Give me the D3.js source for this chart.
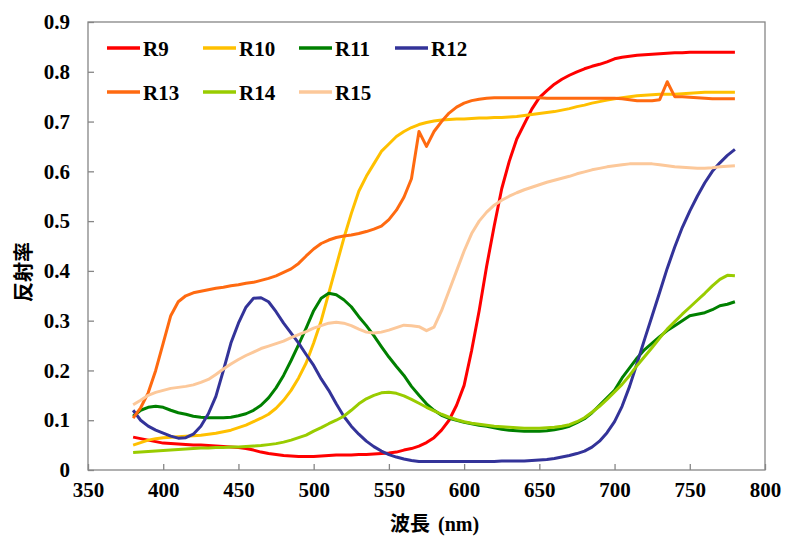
<!DOCTYPE html>
<html>
<head>
<meta charset="utf-8">
<script src="https://cdn.jsdelivr.net/npm/d3@7"></script>
<style>
  body { margin: 0; background: #fff; }
  svg { display: block; }
</style>
</head>
<body>
<svg width="785" height="536"></svg>
<script>
// wavelengths (nm), sampled every 5 nm from 380 to 780
var wavelengths = d3.range(380, 781, 5);

var seriesNames = ["R9", "R10", "R11", "R12", "R13", "R14", "R15"];
var seriesColors = ["#ff0000", "#ffc000", "#008000", "#333399", "#ff6a10", "#99cc00", "#fcc89a"];

var r9 = [
  0.066, 0.063, 0.060, 0.057, 0.054, 0.053, 0.052, 0.051, 0.050, 0.050,
  0.049, 0.048, 0.047, 0.046, 0.045, 0.043, 0.040, 0.036, 0.033, 0.031,
  0.029, 0.028, 0.027, 0.027, 0.027, 0.028, 0.029, 0.030, 0.030, 0.030,
  0.031, 0.031, 0.032, 0.033, 0.034, 0.036, 0.040, 0.043, 0.048, 0.055,
  0.065, 0.080, 0.100, 0.130, 0.170, 0.240, 0.320, 0.410, 0.490, 0.565,
  0.620, 0.665, 0.695, 0.725, 0.748, 0.762, 0.775, 0.785, 0.793, 0.800,
  0.806, 0.811, 0.815, 0.820, 0.826, 0.829, 0.831, 0.833, 0.834, 0.835,
  0.836, 0.837, 0.838, 0.838, 0.839, 0.839, 0.839, 0.839, 0.839, 0.839,
  0.839
];
var r10 = [
  0.050, 0.055, 0.060, 0.063, 0.065, 0.066, 0.067, 0.068, 0.069, 0.070,
  0.072, 0.074, 0.077, 0.080, 0.085, 0.090, 0.097, 0.104, 0.112, 0.124,
  0.140, 0.160, 0.185, 0.215, 0.255, 0.300, 0.355, 0.410, 0.465, 0.515,
  0.560, 0.590, 0.615, 0.640, 0.655, 0.670, 0.680, 0.688, 0.694, 0.698,
  0.701, 0.703, 0.704, 0.705, 0.705, 0.706, 0.707, 0.707, 0.708, 0.708,
  0.709, 0.710, 0.712, 0.714, 0.716, 0.718, 0.720, 0.723, 0.726, 0.730,
  0.733, 0.737, 0.740, 0.743, 0.746, 0.748, 0.750, 0.752, 0.753, 0.754,
  0.755, 0.755, 0.755, 0.756, 0.757, 0.758, 0.759, 0.759, 0.759, 0.759,
  0.759
];
var r11 = [
  0.108, 0.120, 0.126, 0.128, 0.126, 0.120, 0.115, 0.112, 0.108, 0.106,
  0.105, 0.105, 0.105, 0.106, 0.109, 0.113, 0.120, 0.130, 0.145, 0.165,
  0.190, 0.220, 0.252, 0.285, 0.320, 0.345, 0.355, 0.352, 0.342, 0.328,
  0.308, 0.290, 0.270, 0.248, 0.227, 0.208, 0.190, 0.168, 0.150, 0.133,
  0.120, 0.110, 0.104, 0.100, 0.096, 0.093, 0.090, 0.088, 0.085, 0.082,
  0.080, 0.079, 0.078, 0.078, 0.078, 0.079, 0.081, 0.084, 0.088, 0.095,
  0.103, 0.115, 0.130, 0.145, 0.160, 0.185, 0.205, 0.225, 0.242, 0.255,
  0.268, 0.280, 0.290, 0.300, 0.310, 0.313, 0.316, 0.322, 0.330, 0.333,
  0.338
];
var r12 = [
  0.120, 0.100, 0.088, 0.080, 0.074, 0.068, 0.064, 0.065, 0.072, 0.088,
  0.113, 0.148, 0.200, 0.255, 0.295, 0.327, 0.345, 0.346, 0.338, 0.318,
  0.295, 0.275, 0.255, 0.232, 0.210, 0.183, 0.160, 0.133, 0.108, 0.088,
  0.072, 0.058, 0.047, 0.038, 0.031, 0.026, 0.022, 0.019, 0.017, 0.017,
  0.017, 0.017, 0.017, 0.017, 0.017, 0.017, 0.017, 0.017, 0.017, 0.018,
  0.018, 0.018, 0.018, 0.019, 0.020, 0.021, 0.023, 0.026, 0.029, 0.033,
  0.038, 0.046, 0.058, 0.075, 0.097, 0.128, 0.168, 0.215, 0.263, 0.310,
  0.357, 0.405, 0.448, 0.487, 0.520, 0.550, 0.577, 0.600, 0.617, 0.632,
  0.644
];
var r13 = [
  0.104, 0.125, 0.155, 0.200, 0.255, 0.310, 0.338, 0.350, 0.356, 0.359,
  0.362, 0.365, 0.367, 0.370, 0.372, 0.375, 0.377, 0.381, 0.385, 0.390,
  0.397, 0.404, 0.415, 0.430, 0.444, 0.455, 0.462, 0.467, 0.470, 0.472,
  0.475, 0.479, 0.484, 0.490, 0.503, 0.522, 0.548, 0.585, 0.680, 0.650,
  0.680, 0.700, 0.717, 0.729, 0.737, 0.742, 0.745, 0.747, 0.748, 0.748,
  0.748, 0.748, 0.748, 0.748, 0.748, 0.747, 0.747, 0.747, 0.747, 0.747,
  0.747, 0.747, 0.747, 0.747, 0.747, 0.746, 0.744, 0.742, 0.742, 0.742,
  0.744, 0.780, 0.750, 0.750, 0.749, 0.748, 0.747, 0.746, 0.746, 0.746,
  0.746
];
var r14 = [
  0.035, 0.036, 0.037, 0.038, 0.039, 0.040, 0.041, 0.042, 0.043, 0.044,
  0.044, 0.045, 0.045, 0.046, 0.046, 0.047, 0.048, 0.049, 0.051, 0.053,
  0.056, 0.060, 0.065, 0.070, 0.078, 0.085, 0.093, 0.100, 0.108, 0.120,
  0.133, 0.143, 0.150, 0.155, 0.156, 0.154, 0.149, 0.142, 0.134, 0.126,
  0.119, 0.112, 0.106, 0.101, 0.097, 0.094, 0.092, 0.090, 0.088, 0.087,
  0.086, 0.085, 0.084, 0.084, 0.084, 0.085, 0.086, 0.088, 0.091, 0.097,
  0.105, 0.116, 0.128, 0.142, 0.157, 0.172, 0.190, 0.210, 0.228, 0.246,
  0.265, 0.283, 0.298, 0.313, 0.327, 0.341, 0.355, 0.370, 0.383, 0.391,
  0.390
];
var r15 = [
  0.131, 0.140, 0.150, 0.156, 0.160, 0.164, 0.166, 0.168, 0.171, 0.176,
  0.182, 0.192, 0.203, 0.213, 0.222, 0.230, 0.237, 0.244, 0.249, 0.254,
  0.259, 0.266, 0.272, 0.278, 0.285, 0.290, 0.295, 0.297, 0.295, 0.290,
  0.283, 0.277, 0.275, 0.277, 0.281, 0.286, 0.291, 0.290, 0.288, 0.280,
  0.287, 0.320, 0.360, 0.400, 0.440, 0.475, 0.500, 0.518, 0.532, 0.542,
  0.550, 0.557, 0.563, 0.568, 0.573, 0.578, 0.582, 0.586, 0.590, 0.595,
  0.599, 0.603, 0.606, 0.609, 0.611, 0.613, 0.615, 0.615, 0.615, 0.615,
  0.613, 0.611, 0.609, 0.608, 0.607, 0.606, 0.606, 0.607, 0.609, 0.610,
  0.611
];

var xTicks = [350, 400, 450, 500, 550, 600, 650, 700, 750, 800];
var yTicks = [0, 0.1, 0.2, 0.3, 0.4, 0.5, 0.6, 0.7, 0.8, 0.9];

var allSeries = [r9, r10, r11, r12, r13, r14, r15];

var serif = "Liberation Serif";
var cjk = "Noto Sans CJK JP";

var svg = d3.select("svg");
var plot = { left: 88, right: 765, top: 22, bottom: 470 };

var x = d3.scaleLinear().domain([350, 800]).range([plot.left, plot.right]);
var y = d3.scaleLinear().domain([0, 0.9]).range([plot.bottom, plot.top]);

// frame
svg.append("rect")
    .attr("x", plot.left)
    .attr("y", plot.top)
    .attr("width", plot.right - plot.left)
    .attr("height", plot.bottom - plot.top)
    .attr("fill", "none")
    .attr("stroke", "#868686")
    .attr("stroke-width", 1.3);

svg.append("g")
    .attr("transform", "translate(" + plot.left + ",0)")
    .call(d3.axisLeft(y).tickValues(yTicks).tickSize(-6).tickPadding(18)
      .tickFormat(function(d) { return d === 0 ? "0" : d.toFixed(1); }));

svg.append("g")
    .attr("transform", "translate(0," + plot.bottom + ")")
    .call(d3.axisBottom(x).tickValues(xTicks).tickSize(-6).tickPadding(12)
      .tickFormat(d3.format("d")));

svg.selectAll(".domain").remove();
svg.selectAll(".tick line").attr("stroke", "#868686").attr("stroke-width", 1.3);
svg.selectAll(".tick text")
    .attr("font-family", serif)
    .attr("font-weight", "bold")
    .attr("font-size", 21)
    .attr("fill", "#000");

var line = d3.line()
    .x(function(d, i) { return x(wavelengths[i]); })
    .y(function(d) { return y(d); });

svg.append("g")
    .attr("class", "series")
  .selectAll("path")
  .data(allSeries)
  .enter().append("path")
    .attr("d", line)
    .attr("fill", "none")
    .attr("stroke", function(d, i) { return seriesColors[i]; })
    .attr("stroke-width", 3)
    .attr("stroke-linejoin", "round");

// legend, two rows of four columns
var legend = svg.append("g")
  .selectAll("g")
  .data(seriesNames)
  .enter().append("g")
    .attr("transform", function(d, i) {
      return "translate(" + (107 + (i % 4) * 96) + "," + (48 + Math.floor(i / 4) * 44) + ")";
    });

legend.append("line")
    .attr("x1", 0).attr("x2", 33)
    .attr("y1", 0).attr("y2", 0)
    .attr("stroke", function(d, i) { return seriesColors[i]; })
    .attr("stroke-width", 3.5);

legend.append("text")
    .attr("x", 36)
    .attr("y", 7.5)
    .attr("font-family", serif)
    .attr("font-weight", "bold")
    .attr("font-size", 21)
    .text(function(d) { return d; });

// axis titles
svg.append("text")
    .attr("transform", "translate(31,272) rotate(-90)")
    .attr("text-anchor", "middle")
    .attr("font-family", cjk)
    .attr("font-weight", "bold")
    .attr("font-size", 20)
    .text("反射率");

var xt = svg.append("text")
    .attr("x", 390)
    .attr("y", 531)
    .attr("font-weight", "bold")
    .attr("font-size", 20);
xt.append("tspan")
    .attr("font-family", cjk)
    .text("波長");
xt.append("tspan")
    .attr("dx", 8)
    .attr("font-family", serif)
    .text("(nm)");
</script>
</body>
</html>
